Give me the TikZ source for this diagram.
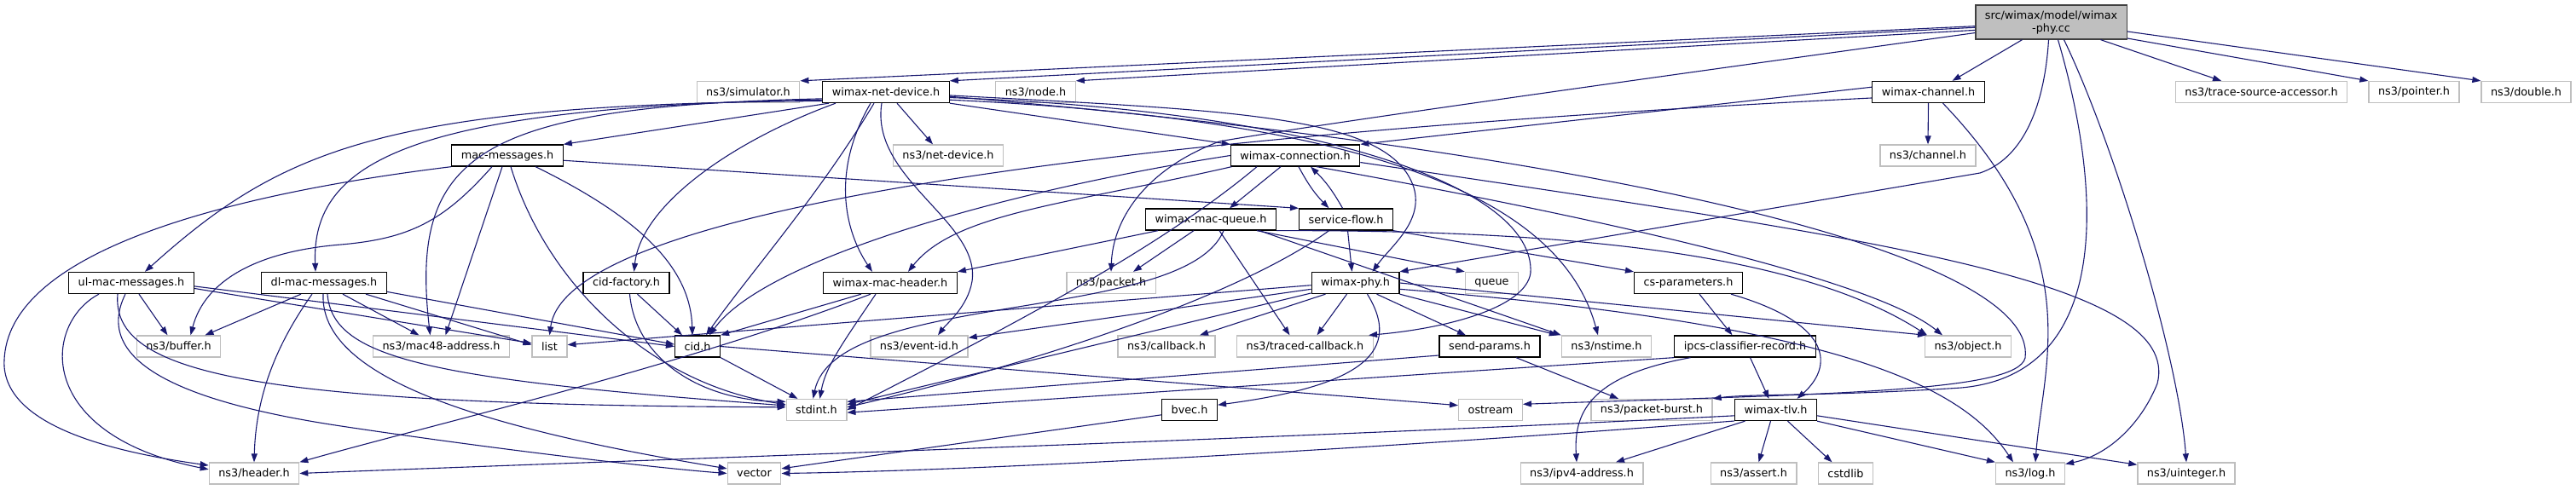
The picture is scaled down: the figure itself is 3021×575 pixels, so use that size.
\documentclass[tikz,border=0pt]{standalone}
\usepackage{fontspec}
\setmainfont{DejaVu Sans}
\usetikzlibrary{arrows.meta}
\definecolor{edgeblue}{HTML}{191970}
\definecolor{sysgray}{HTML}{BFBFBF}
\definecolor{rootline}{HTML}{404040}

\begin{document}
\begin{tikzpicture}[x=1pt,y=-1pt,
  hdr/.style={draw=black,line width=1.3pt,fill=white,minimum height=25pt,inner xsep=11pt,inner ysep=0pt,font=\fontsize{12.8}{15}\selectfont},
  sys/.style={hdr,draw=sysgray},
  srcfile/.style={hdr,fill=sysgray,draw=rootline,minimum height=40pt,align=center},
  dep/.style={draw=edgeblue,line width=1.1pt,-{Triangle[length=10pt,width=7pt]}}]

\useasboundingbox (0,0) rectangle (3021,575);

\node[srcfile] (root) at (2405.5,26) {src/wimax/model/wimax\\-phy.cc};

\node[sys] (simulator) at (877.5,108) {ns3/simulator.h};
\node[hdr] (netdev) at (1039,108) {wimax-net-device.h};
\node[sys] (nodeh) at (1214.5,108) {ns3/node.h};
\node[hdr] (wchannel) at (2261.5,108) {wimax-channel.h};
\node[sys] (tsa) at (2652,108) {ns3/trace-source-accessor.h};
\node[sys] (pointer) at (2831,108) {ns3/pointer.h};
\node[sys] (dbl) at (2962.5,108) {ns3/double.h};

\node[hdr] (macmsg) at (595,182.5) {mac-messages.h};
\node[sys] (netdevice) at (1112,182.5) {ns3/net-device.h};
\node[hdr] (wconn) at (1519,182.5) {wimax-connection.h};
\node[sys] (channel) at (2261,182.5) {ns3/channel.h};

\node[hdr] (wmq) at (1420,257.5) {wimax-mac-queue.h};
\node[hdr] (sflow) at (1578.5,257.5) {service-flow.h};

\node[hdr] (ulmac) at (154,332) {ul-mac-messages.h};
\node[hdr] (dlmac) at (380,332) {dl-mac-messages.h};
\node[hdr] (cidfac) at (734.5,332) {cid-factory.h};
\node[hdr] (wmh) at (1044,332) {wimax-mac-header.h};
\node[sys] (packet) at (1303,332) {ns3/packet.h};
\node[hdr] (wphy) at (1589.5,332) {wimax-phy.h};
\node[sys] (queue) at (1749.5,332) {queue};
\node[hdr] (csparam) at (1980,332) {cs-parameters.h};

\node[sys] (buffer) at (209.5,406.5) {ns3/buffer.h};
\node[sys] (mac48) at (517.5,406.5) {ns3/mac48-address.h};
\node[sys] (lst) at (644.5,406.5) {list};
\node[hdr] (cid) at (818,406.5) {cid.h};
\node[sys] (eventid) at (1078,406.5) {ns3/event-id.h};
\node[sys] (callback) at (1368,406.5) {ns3/callback.h};
\node[sys] (tcb) at (1530.5,406.5) {ns3/traced-callback.h};
\node[hdr] (sendp) at (1747,406.5) {send-params.h};
\node[sys] (nstime) at (1884,406.5) {ns3/nstime.h};
\node[hdr] (ipcs) at (2046.5,406.5) {ipcs-classifier-record.h};
\node[sys] (object) at (2308,406.5) {ns3/object.h};

\node[sys] (stdint) at (957.5,481) {stdint.h};
\node[hdr] (bvec) at (1395,481) {bvec.h};
\node[sys] (ostream) at (1748,481) {ostream};
\node[sys] (pburst) at (1937,481) {ns3/packet-burst.h};
\node[hdr] (wtlv) at (2082.5,481) {wimax-tlv.h};

\node[sys] (header) at (298,555.5) {ns3/header.h};
\node[sys] (vector) at (884.5,555.5) {vector};
\node[sys] (ipv4) at (1855,555.5) {ns3/ipv4-address.h};
\node[sys] (assert) at (2056.5,555.5) {ns3/assert.h};
\node[sys] (cstdlib) at (2164.5,555.5) {cstdlib};
\node[sys] (logh) at (2381,555.5) {ns3/log.h};
\node[sys] (uint) at (2564,555.5) {ns3/uinteger.h};

% source file
\draw[dep] (root.183) -- (simulator.north east);
\draw[dep] (root.184) -- (netdev.north east);
\draw[dep] (root.186) -- (nodeh.north east);
\draw[dep] (root.188) .. controls (1800,110) and (1520,150) .. (1430,166) .. controls (1340,200) and (1305,260) .. (packet.north);
\draw[dep] ([xshift=-34pt]root.south) -- ([xshift=28pt]wchannel.north);
\draw[dep] ([xshift=-3pt]root.south) .. controls (2398,120) and (2375,185) .. (2322,203) -- (wphy.north east);
\draw[dep] ([xshift=8pt]root.south) .. controls (2470,240) and (2470,440) .. (2300,455) .. controls (2150,465) and (2050,462) .. (pburst.north east);
\draw[dep] ([xshift=15pt]root.south) .. controls (2480,170) and (2555,420) .. (uint.north);
\draw[dep] ([xshift=58pt]root.south) -- ([xshift=-47pt]tsa.north);
\draw[dep] (root.-12) -- (pointer.north west);
\draw[dep] (root.-7) -- (dbl.north west);

\draw[dep] (wchannel.south) -- (channel.north);
\draw[dep] ([xshift=17pt]wchannel.south) .. controls (2450,300) and (2395,430) .. ([xshift=6pt]logh.north);
\draw[dep] (wchannel.175) -- (wconn.north east);
\draw[dep] (wchannel.186) .. controls (1100,170) and (660,270) .. (lst.north);

% wimax-net-device.h
\draw[dep] (netdev.188) .. controls (450,122) and (330,175) .. ([xshift=16pt]ulmac.north);
\draw[dep] (netdev.187) .. controls (480,125) and (365,190) .. ([xshift=-10pt]dlmac.north);
\draw[dep] (netdev.186) .. controls (560,125) and (480,180) .. ([xshift=-13pt]mac48.north);
\draw[dep] ([xshift=8pt]netdev.south west) -- (macmsg.north east);
\draw[dep] ([xshift=-59pt]netdev.south) .. controls (860,165) and (752,240) .. ([xshift=9pt]cidfac.north);
\draw[dep] ([xshift=-14pt]netdev.south) .. controls (960,230) and (880,320) .. ([xshift=10pt]cid.north);
\draw[dep] ([xshift=-18pt]netdev.south) .. controls (975,200) and (990,270) .. ([xshift=-21pt]wmh.north);
\draw[dep] ([xshift=-5pt]netdev.south) .. controls (1020,210) and (1150,260) .. (1140,330) .. controls (1135,360) and (1110,380) .. ([xshift=22pt]eventid.north);
\draw[dep] ([xshift=13pt]netdev.south) -- ([xshift=-18pt]netdevice.north);
\draw[dep] (netdev.south east) -- (wconn.north west);
\draw[dep] (netdev.-3) .. controls (1450,130) and (1630,135) .. (1658,220) .. controls (1670,260) and (1630,290) .. ([xshift=20pt]wphy.north);
\draw[dep] (netdev.-5) .. controls (1550,130) and (1800,220) .. (1795,320) .. controls (1790,360) and (1700,385) .. (tcb.10);
\draw[dep] (netdev.-7) .. controls (1600,140) and (1830,230) .. ([xshift=-10pt]nstime.north);
\draw[dep] (netdev.-4) .. controls (1900,180) and (2390,300) .. (2375,420) .. controls (2365,460) and (2150,462) .. (ostream.10);

% mac messages
\draw[dep] (macmsg.south west) .. controls (250,230) and (0,300) .. (5,430) .. controls (10,500) and (130,530) .. (header.170);
\draw[dep] ([xshift=-18pt]macmsg.south) .. controls (520,260) and (480,280) .. (400,287) .. controls (300,295) and (240,330) .. ([xshift=14pt]buffer.north);
\draw[dep] ([xshift=-6pt]macmsg.south) -- ([xshift=5pt]mac48.north);
\draw[dep] ([xshift=4pt]macmsg.south) .. controls (640,330) and (760,450) .. (stdint.170);
\draw[dep] ([xshift=33pt]macmsg.south) .. controls (760,260) and (810,320) .. ([xshift=-6pt]cid.north);
\draw[dep] (macmsg.-5) -- (sflow.north west);

\draw[dep] ([xshift=9pt]ulmac.south) -- ([xshift=-13pt]buffer.north);
\draw[dep] ([xshift=-38pt]ulmac.south) .. controls (50,380) and (40,510) .. (header.175);
\draw[dep] ([xshift=-7pt]ulmac.south) .. controls (110,420) and (200,470) .. (400,500) .. controls (600,530) and (780,550) .. (vector.west);
\draw[dep] ([xshift=-16pt]ulmac.south) .. controls (130,440) and (300,475) .. (stdint.175);
\draw[dep] (ulmac.-5) -- (lst.170);
\draw[dep] (ulmac.-3) -- (cid.west);

\draw[dep] ([xshift=-27pt]dlmac.south) -- ([xshift=31pt]buffer.north);
\draw[dep] ([xshift=-14pt]dlmac.south) .. controls (320,410) and (300,470) .. (header.north);
\draw[dep] ([xshift=-1pt]dlmac.south) .. controls (375,440) and (550,500) .. (vector.170);
\draw[dep] ([xshift=4pt]dlmac.south) .. controls (390,420) and (500,445) .. (stdint.172);
\draw[dep] ([xshift=22pt]dlmac.south) -- ([xshift=-26pt]mac48.north);
\draw[dep] ([xshift=49pt]dlmac.south) -- (lst.175);
\draw[dep] (dlmac.-8) -- (cid.175);

\draw[dep] ([xshift=13pt]cidfac.south) -- ([xshift=-18pt]cid.north);
\draw[dep] ([xshift=4pt]cidfac.south) .. controls (745,420) and (820,470) .. (stdint.165);
\draw[dep] (cid.south east) -- ([xshift=-22pt]stdint.north);
\draw[dep] (cid.east) -- (ostream.172);

\draw[dep] ([xshift=-34pt]wmh.south) -- (cid.north east);
\draw[dep] ([xshift=-23pt]wmh.south) .. controls (800,430) and (500,500) .. (header.north east);
\draw[dep] ([xshift=-17pt]wmh.south) .. controls (990,400) and (968,430) .. ([xshift=4pt]stdint.north);

% connection, queue, service flow
\draw[dep] ([xshift=-17pt]wconn.south) -- ([xshift=22pt]wmq.north);
\draw[dep] ([xshift=4pt]wconn.south) to[bend right=8] ([xshift=-20pt]sflow.north);
\draw[dep] ([xshift=-4pt]sflow.north) to[bend right=8] ([xshift=18pt]wconn.south);
\draw[dep] (wconn.west) .. controls (1200,220) and (900,300) .. ([xshift=14pt]cid.north);
\draw[dep] (wconn.190) .. controls (1250,240) and (1120,250) .. ([xshift=21pt]wmh.north);
\draw[dep] ([xshift=-45pt]wconn.south) .. controls (1350,300) and (1150,400) .. (stdint.east);
\draw[dep] ([xshift=25pt]wconn.south) .. controls (1900,260) and (2200,330) .. ([xshift=-30pt]object.north);
\draw[dep] (wconn.-6) .. controls (2200,280) and (2560,330) .. (2530,450) .. controls (2510,500) and (2470,535) .. (logh.15);

\draw[dep] ([xshift=2pt]sflow.south) -- ([xshift=-4pt]wphy.north);
\draw[dep] (sflow.south east) -- (csparam.north west);
\draw[dep] ([xshift=-20pt]sflow.south) .. controls (1450,350) and (1200,430) .. (stdint.5);

\draw[dep] ([xshift=-62pt]wmq.south) -- (wmh.north east);
\draw[dep] ([xshift=-20pt]wmq.south) -- ([xshift=26pt]packet.north);
\draw[dep] ([xshift=15pt]wmq.south) .. controls (1390,380) and (980,340) .. ([xshift=-4pt]stdint.north);
\draw[dep] ([xshift=10pt]wmq.south) -- ([xshift=-18pt]tcb.north);
\draw[dep] ([xshift=54pt]wmq.south) -- (queue.north west);
\draw[dep] ([xshift=57pt]wmq.south) -- (nstime.north west);
\draw[dep] (wmq.south east) .. controls (1800,270) and (2100,290) .. ([xshift=-48pt]object.north);

% wimax-phy.h
\draw[dep] (wphy.183) -- (lst.5);
\draw[dep] (wphy.188) -- (eventid.10);
\draw[dep] (wphy.193) -- (stdint.10);
\draw[dep] ([xshift=-35pt]wphy.south) -- ([xshift=39pt]callback.north);
\draw[dep] ([xshift=-10pt]wphy.south) -- ([xshift=14pt]tcb.north);
\draw[dep] ([xshift=14pt]wphy.south) .. controls (1650,420) and (1580,455) .. (bvec.10);
\draw[dep] ([xshift=25pt]wphy.south) -- ([xshift=-28pt]sendp.north);
\draw[dep] (wphy.south east) -- ([xshift=-4pt]nstime.north west);
\draw[dep] (wphy.east) -- (object.165);
\draw[dep] (wphy.-8) .. controls (2150,380) and (2300,450) .. ([xshift=-20pt]logh.north);

\draw[dep] ([xshift=13pt]csparam.south) -- ([xshift=-15pt]ipcs.north);
\draw[dep] ([xshift=50pt]csparam.south) .. controls (2150,380) and (2150,430) .. ([xshift=25pt]wtlv.north);
\draw[dep] ([xshift=6pt]ipcs.south) -- ([xshift=-8pt]wtlv.north);
\draw[dep] ([xshift=-64pt]ipcs.south) .. controls (1870,440) and (1845,480) .. ([xshift=-6pt]ipv4.north);
\draw[dep] (ipcs.south west) -- (stdint.-5);

\draw[dep] (sendp.190) -- (stdint.15);
\draw[dep] ([xshift=31pt]sendp.south) -- ([xshift=-39pt]pburst.north);
\draw[dep] (bvec.190) -- (vector.10);

% wimax-tlv.h
\draw[dep] (wtlv.188) .. controls (1500,515) and (800,538) .. (header.east);
\draw[dep] (wtlv.195) .. controls (1500,535) and (1100,553) .. (vector.east);
\draw[dep] ([xshift=-36pt]wtlv.south) -- ([xshift=40pt]ipv4.north);
\draw[dep] ([xshift=-6pt]wtlv.south) -- ([xshift=6pt]assert.north);
\draw[dep] ([xshift=14pt]wtlv.south) -- ([xshift=-16pt]cstdlib.north);
\draw[dep] (wtlv.south east) -- (logh.north west);
\draw[dep] (wtlv.-8) -- (uint.170);

\end{tikzpicture}
\end{document}
